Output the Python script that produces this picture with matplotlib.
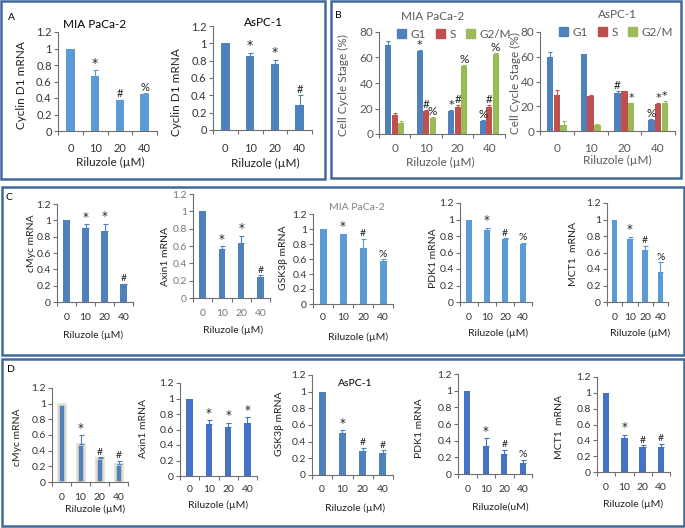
import numpy as np
import matplotlib
matplotlib.use('Agg')
import matplotlib.pyplot as plt
from matplotlib.patches import Rectangle, Patch
from matplotlib.ticker import FuncFormatter

plt.rcParams['font.family'] = ['Lato', 'DejaVu Sans']

W, H = 685, 528
doses = ['0', '10', '20', '40']
xlab = 'Riluzole (µM)'

# A - cyclin D1
a_mia = [1.0, 0.67, 0.37, 0.45]
a_mia_err = [0, 0.07, 0.01, 0.01]
a_mia_sig = ['', '*', '#', '%']
a_aspc = [1.0, 0.85, 0.76, 0.29]
a_aspc_err = [0, 0.04, 0.05, 0.11]
a_aspc_sig = ['', '*', '*', '#']

# B - cell cycle
phases = ['G1', 'S', 'G2/M']
b_mia = [[70, 65, 18, 10], [15, 18, 21, 21], [9, 12.5, 53.5, 63]]
b_mia_err = [[3, 1, 0.5, 1], [1.5, 1, 1.5, 1.5], [1.5, 0.5, 0.5, 0.5]]
b_mia_sig = [['', '*', '*', '%'], ['', '#', '#', '#'], ['', '%', '%', '%']]
b_aspc = [[60, 62, 31, 9], [29, 28.5, 32, 21.5], [5, 5, 22.5, 23]]
b_aspc_err = [[4, 0.3, 1, 1], [4, 0.3, 0.5, 1.5], [3, 1, 0.5, 1.5]]
b_aspc_sig = [['', '', '#', '%'], ['', '', '', '*'], ['', '', '*', '*']]

# C - MIA PaCa-2 targets
c_myc = [1.0, 0.91, 0.87, 0.22]
c_myc_err = [0, 0.04, 0.09, 0.005]
c_myc_sig = ['', '*', '*', '#']
c_axin = [1.0, 0.56, 0.64, 0.24]
c_axin_err = [0, 0.04, 0.08, 0.02]
c_axin_sig = ['', '*', '*', '#']
c_gsk = [1.0, 0.93, 0.75, 0.58]
c_gsk_err = [0, 0.01, 0.12, 0.02]
c_gsk_sig = ['', '*', '#', '%']
c_pdk = [1.0, 0.87, 0.76, 0.70]
c_pdk_err = [0, 0.03, 0.01, 0.02]
c_pdk_sig = ['', '*', '#', '%']
c_mct = [1.0, 0.76, 0.63, 0.36]
c_mct_err = [0, 0.03, 0.05, 0.12]
c_mct_sig = ['', '*', '#', '%']

# D - AsPC-1 targets
d_myc = [1.0, 0.49, 0.31, 0.23]
d_myc_err = [0, 0.11, 0.01, 0.04]
d_myc_sig = ['', '*', '#', '#']
d_axin = [1.0, 0.67, 0.63, 0.68]
d_axin_err = [0, 0.05, 0.06, 0.08]
d_axin_sig = ['', '*', '*', '*']
d_gsk = [1.0, 0.51, 0.29, 0.27]
d_gsk_err = [0, 0.03, 0.04, 0.03]
d_gsk_sig = ['', '*', '#', '#']
d_pdk = [1.0, 0.34, 0.24, 0.13]
d_pdk_err = [0, 0.09, 0.05, 0.04]
d_pdk_sig = ['', '*', '#', '%']
d_mct = [1.0, 0.43, 0.32, 0.31]
d_mct_err = [0, 0.04, 0.02, 0.05]
d_mct_sig = ['', '*', '#', '#']

LIGHT = '#5B9BD5'
DARK = '#4F81BD'
BRIGHT = '#4472C4'
phase_colors = ['#4F81BD', '#C0504D', '#9BBB59']

fig = plt.figure(figsize=(W / 100, H / 100), dpi=100)


def px_axes(x0, y0, x1, y1):
    return fig.add_axes([x0 / W, 1 - y1 / H, (x1 - x0) / W, (y1 - y0) / H])


def ftext(x, y, s, **kw):
    fig.text(x / W, 1 - y / H, s, ha='center', va='center', **kw)


def sig_text(ax, x, y, s, fs, star_fs):
    # asterisks from DejaVu read closer to the original than Lato's tiny one
    if s == '*':
        ax.text(x, y, s, ha='center', va='bottom', fontsize=star_fs, color='#222222',
                family=['DejaVu Sans'])
    else:
        ax.text(x, y, s, ha='center', va='bottom', fontsize=fs, color='#222222')


def style(ax, ymax, ystep, axis_y, tick_y, fs, tc, ypad=1.5):
    ax.set_xlim(-0.5, 3.5)
    ax.set_ylim(0, ymax)
    ax.patch.set_alpha(0)
    for s in ['top', 'right']:
        ax.spines[s].set_visible(False)
    for s in ['left', 'bottom']:
        ax.spines[s].set_color('#6f6f6f')
        ax.spines[s].set_linewidth(0.8)
    ax.set_yticks(np.arange(0, ymax + 1e-9, ystep))
    ax.yaxis.set_major_formatter(FuncFormatter(lambda v, p: '%g' % round(v, 2)))
    ax.set_xticks(range(4))
    ax.set_xticklabels(doses)
    ax.set_xticks(np.arange(-0.5, 4, 1), minor=True)
    ax.tick_params(axis='x', which='major', length=0,
                   pad=(tick_y - axis_y - 4.5) * 0.72, labelsize=fs, labelcolor=tc)
    ax.tick_params(axis='x', which='minor', length=3, width=0.8, color='#6f6f6f')
    ax.tick_params(axis='y', length=3, width=0.8, color='#6f6f6f', pad=ypad,
                   labelsize=fs, labelcolor=tc)


def mrna_panel(box, vals, errs, sig, color, ylabel, ylab_xy, xlab_xy, tick_y,
               fs=7.5, tc='#333333', edge=None, xlabel=xlab, lfs=7.5):
    ax = px_axes(*box)
    x = np.arange(4)
    if edge:
        ax.bar(x, vals, 0.4, color=color, edgecolor=edge, linewidth=1.8)
    else:
        ax.bar(x, vals, 0.35, color=color)
    e = np.array(errs)
    m = e > 0
    ax.errorbar(x[m], np.array(vals)[m], yerr=[np.zeros(m.sum()), e[m]], fmt='none',
                ecolor=color, elinewidth=0.8, capsize=1.8, capthick=0.8)
    for xi, v, er, s in zip(x, vals, errs, sig):
        if s:
            sig_text(ax, xi, v + er + 0.005, s, fs, fs + 1)
    style(ax, 1.2, 0.2, box[3], tick_y, fs, tc)
    ftext(*ylab_xy, ylabel, rotation=90, fontsize=lfs, color='#222222')
    ftext(*xlab_xy, xlabel, fontsize=lfs, color='#222222')
    return ax


def cycle_panel(box, vals, errs, sig, title, title_xy, leg_xy, ylab_x, xlab_xy):
    ax = px_axes(*box)
    x = np.arange(4)
    for k in range(3):
        xs = x + (k - 1) * 0.2
        ax.bar(xs, vals[k], 0.19, color=phase_colors[k])
        ax.errorbar(xs, vals[k], yerr=[np.zeros(4), errs[k]], fmt='none',
                    ecolor=phase_colors[k], elinewidth=0.8, capsize=1.5, capthick=0.8)
        for xi, v, er, s in zip(xs, vals[k], errs[k], sig[k]):
            if s:
                sig_text(ax, xi, v + er, s, 8.5, 8)
    style(ax, 80, 20, box[3], 147, 8.5, '#595959', ypad=1)
    handles = [Patch(color=c) for c in phase_colors]
    ax.legend(handles, phases, ncol=3, loc='center', frameon=False, fontsize=8.5,
              bbox_to_anchor=(leg_xy[0] / W, 1 - leg_xy[1] / H), bbox_transform=fig.transFigure,
              handlelength=0.7, handleheight=0.7, handletextpad=0.4, columnspacing=0.9,
              labelcolor='#595959')
    ftext(*title_xy, title, fontsize=8.5, color='#595959')
    ftext(ylab_x, (box[1] + box[3]) / 2 + 2, 'Cell Cycle Stage (%)', rotation=90,
          fontsize=8.5, color='#595959')
    ftext(*xlab_xy, xlab, fontsize=8.5, color='#595959')


# panel borders
for (x0, y0, x1, y1) in [(1, 1, 325, 179), (331, 1, 681, 178), (2, 187, 684, 355), (2, 359, 684, 526)]:
    fig.patches.append(Rectangle((x0 / W, 1 - y1 / H), (x1 - x0) / W, (y1 - y0) / H,
                                 transform=fig.transFigure, fill=False,
                                 edgecolor='#41699C', linewidth=1.8))

ftext(11, 17, 'A', fontsize=7.5)
ftext(338, 15, 'B', fontsize=7.5)
ftext(9, 197, 'C', fontsize=7.5)
ftext(11, 370, 'D', fontsize=7.5)

# A
mrna_panel((58, 32, 157, 131), a_mia, a_mia_err, a_mia_sig, LIGHT, 'Cyclin D1 mRNA',
           (22, 85), (110, 162), 147, fs=8, lfs=8.5)
ftext(95, 25, 'MIA PaCa-2', fontsize=8.5)
mrna_panel((213, 26, 312, 130), a_aspc, a_aspc_err, a_aspc_sig, DARK, 'Cyclin D1 mRNA',
           (177, 92), (265, 163), 147, fs=8, lfs=8.5)
ftext(263, 23, 'AsPC-1', fontsize=8.5)

# B
cycle_panel((379, 32, 505, 134), b_mia, b_mia_err, b_mia_sig, 'MIA PaCa-2', (433, 17),
            (454, 34), 343, (440, 162))
cycle_panel((540, 32, 675, 131), b_aspc, b_aspc_err, b_aspc_sig, 'AsPC-1', (617, 15),
            (616, 32), 515, (617, 160))

# C
mrna_panel((57, 204, 133, 302), c_myc, c_myc_err, c_myc_sig, DARK, 'cMyc mRNA',
           (32, 243), (93, 335), 317)
mrna_panel((193, 194, 270, 298), c_axin, c_axin_err, c_axin_sig, DARK, 'Axin1 mRNA',
           (166, 256), (233, 330), 313, tc='#777777')
mrna_panel((313, 214, 393, 304), c_gsk, c_gsk_err, c_gsk_sig, LIGHT, 'GSK3β mRNA',
           (283, 258), (358, 337), 318)
ftext(357, 208, 'MIA PaCa-2', fontsize=7.5, color='#808080')
mrna_panel((460, 203, 532, 302), c_pdk, c_pdk_err, c_pdk_sig, LIGHT, 'PDK1 mRNA',
           (433, 258), (498, 333), 317)
mrna_panel((607, 203, 668, 302), c_mct, c_mct_err, c_mct_sig, LIGHT, 'MCT1  mRNA',
           (573, 254), (640, 333), 317)

# D
mrna_panel((52, 388, 128, 482), d_myc, d_myc_err, d_myc_sig, DARK, 'cMyc mRNA',
           (18, 437), (95, 509), 497, edge='#E3DDCB')
mrna_panel((180, 383, 257, 476), d_axin, d_axin_err, d_axin_sig, BRIGHT, 'Axin1 mRNA',
           (143, 429), (218, 505), 490)
mrna_panel((312, 375, 393, 475), d_gsk, d_gsk_err, d_gsk_sig, DARK, 'GSK3β mRNA',
           (280, 424), (355, 508), 490)
ftext(355, 383, 'AsPC-1', fontsize=7.5)
mrna_panel((458, 374, 532, 474), d_pdk, d_pdk_err, d_pdk_sig, BRIGHT, 'PDK1 mRNA',
           (420, 428), (500, 507), 489, xlabel='Riluzole(uM)')
mrna_panel((597, 377, 670, 472), d_mct, d_mct_err, d_mct_sig, BRIGHT, 'MCT1  mRNA',
           (560, 427), (633, 504), 487)

fig.savefig('out.png', dpi=100)
